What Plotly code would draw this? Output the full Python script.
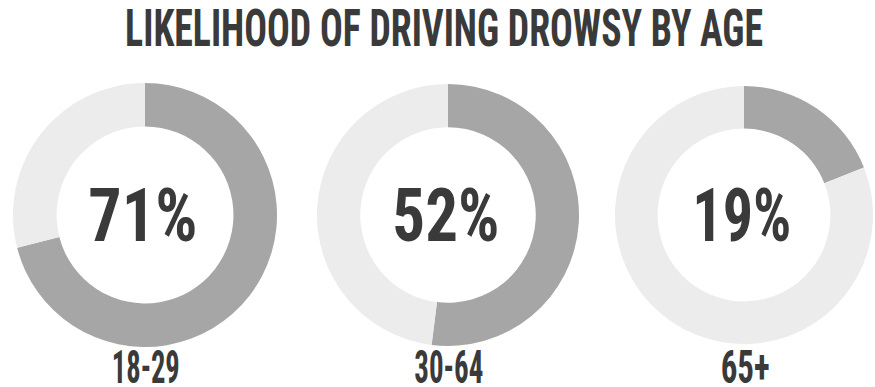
import json
import plotly.graph_objects as go

title_text = "LIKELIHOOD OF DRIVING DROWSY BY AGE"
age_groups = ["18-29", "30-64", "65+"]
drowsy_pct = [71, 52, 19]
slice_labels = ["Drowsy", "Not drowsy"]

# ---- styles ----
dark = "#a6a6a6"
light = "#ececec"
text_color = "#3a3a3a"
font_family = "Roboto Condensed, Open Sans Condensed, DejaVu Sans Condensed, Liberation Sans Narrow, DejaVu Sans, sans-serif"

W, H = 875, 387
centers_x = [145, 448, 744]
radii = [132, 131, 129]
center_y = 215

# target rendered widths (px) to emulate the condensed display typeface
pct_widths = [109, 107, 99]
label_widths = [68, 69, 49]
title_width = 638

fig = go.Figure()
targets = {title_text: title_width}
for i, (grp, pct) in enumerate(zip(age_groups, drowsy_pct)):
    cx = centers_x[i]
    r = radii[i]
    x0 = max(0.0, (cx - r) / W)
    x1 = min(1.0, (cx + r) / W)
    y0 = max(0.0, (H - (center_y + r)) / H)
    y1 = min(1.0, (H - (center_y - r)) / H)
    fig.add_trace(go.Pie(
        values=[pct, 100 - pct],
        labels=slice_labels,
        hole=0.67,
        sort=False,
        direction="clockwise",
        rotation=0,
        marker=dict(colors=[dark, light], line=dict(width=0)),
        textinfo="none",
        hoverinfo="label+percent",
        domain=dict(x=[x0, x1], y=[y0, y1]),
        showlegend=False,
    ))
    fig.add_annotation(
        x=(cx - 2) / W, y=(H - 215) / H, xref="paper", yref="paper",
        text=f"<b>{pct}%</b>", showarrow=False,
        font=dict(family=font_family, size=75, color=text_color),
        xanchor="center", yanchor="middle",
    )
    targets[f"{pct}%"] = pct_widths[i]
    fig.add_annotation(
        x=(cx + 1) / W, y=(H - 367) / H, xref="paper", yref="paper",
        text=f"<b>{grp}</b>", showarrow=False,
        font=dict(family=font_family, size=46, color=text_color),
        xanchor="center", yanchor="middle",
    )
    targets[grp] = label_widths[i]

fig.add_annotation(
    x=444 / W, y=(H - 29) / H, xref="paper", yref="paper",
    text=f"<b>{title_text}</b>", showarrow=False,
    font=dict(family=font_family, size=52, color=text_color),
    xanchor="center", yanchor="middle",
)

fig.update_layout(
    width=W, height=H,
    margin=dict(l=0, r=0, t=0, b=0),
    paper_bgcolor="white",
    plot_bgcolor="white",
)

post_js = """
var gd = document.getElementById('{plot_id}');
var targets = %s;
gd.querySelectorAll('text.annotation-text').forEach(function(t){
  var key = t.textContent;
  if (!(key in targets)) return;
  var bb = t.getBBox();
  if (!bb.width) return;
  var s = targets[key] / bb.width;
  var cx = bb.x + bb.width / 2;
  t.setAttribute('transform', 'translate(' + cx + ',0) scale(' + s + ',1) translate(' + (-cx) + ',0)');
});
""" % json.dumps(targets)

fig.write_html("out.html", post_script=post_js)
